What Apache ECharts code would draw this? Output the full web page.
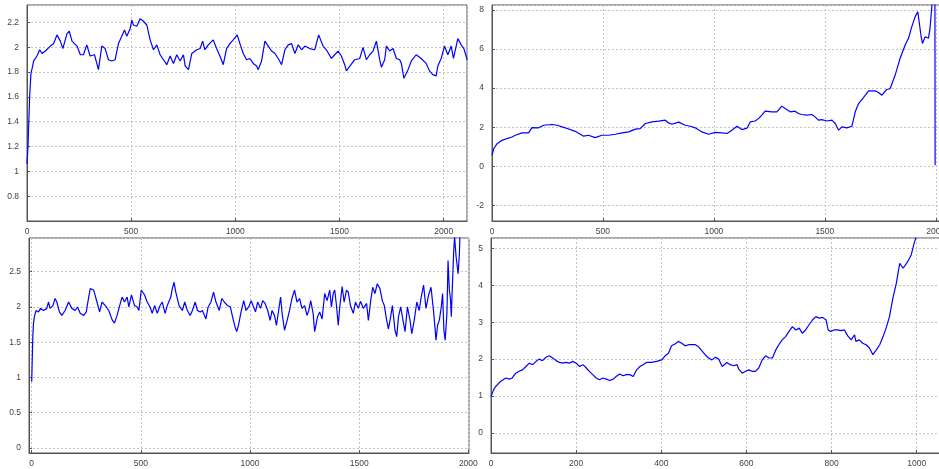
<!DOCTYPE html>
<html lang="en">
<head>
    <meta charset="UTF-8">
    <title>Four runs</title>
</head>
<style>
    html, body { margin: 0; padding: 0; background: #fff; }
    #chart { width: 939px; height: 469px; }
</style>
<body>
<div id="chart"></div>
</body>
<script src="https://cdn.jsdelivr.net/npm/echarts@6/dist/echarts.min.js"></script>
<script>
    // values, [step, value]
    var run1 = [[0,1.06],[5,1.21],[8,1.37],[13,1.61],[19,1.79],[26,1.84],[32,1.89],[48,1.93],[61,1.98],[72,1.95],[88,1.97],[112,2.01],[128,2.03],[144,2.10],[160,2.05],[172,1.99],[192,2.11],[203,2.13],[216,2.05],[240,2.01],[256,1.94],[271,1.94],[287,2.02],[303,1.93],[324,1.94],[335,1.87],[343,1.82],[359,2.01],[375,1.99],[391,1.90],[407,1.89],[423,1.90],[439,2.03],[455,2.09],[468,2.14],[479,2.09],[495,2.15],[503,2.22],[511,2.18],[527,2.17],[543,2.23],[559,2.21],[575,2.18],[591,2.06],[607,1.98],[623,2.02],[639,1.94],[655,1.90],[671,1.86],[687,1.93],[703,1.87],[719,1.94],[735,1.89],[751,1.94],[759,1.85],[775,1.82],[791,1.95],[815,1.98],[831,1.99],[843,2.05],[854,1.98],[870,2.02],[894,2.06],[910,1.99],[926,1.93],[942,1.86],[958,1.99],[974,2.03],[990,2.06],[1009,2.10],[1022,2.03],[1038,1.95],[1054,1.90],[1070,1.91],[1086,1.87],[1102,1.85],[1110,1.82],[1126,1.89],[1142,2.05],[1158,2.01],[1174,1.97],[1190,1.95],[1206,1.91],[1222,1.86],[1238,1.98],[1254,2.02],[1270,2.03],[1286,1.95],[1302,2.02],[1318,1.98],[1334,2.01],[1357,1.99],[1381,1.98],[1400,2.10],[1421,2.01],[1437,1.98],[1461,1.91],[1477,1.94],[1493,1.97],[1509,1.93],[1525,1.86],[1533,1.81],[1573,1.90],[1597,1.91],[1613,2.00],[1629,1.90],[1645,1.94],[1661,1.97],[1677,2.05],[1693,1.90],[1701,1.84],[1717,1.90],[1725,2.01],[1741,1.97],[1757,1.99],[1773,1.91],[1789,1.90],[1797,1.87],[1809,1.75],[1829,1.82],[1845,1.89],[1868,1.94],[1892,1.91],[1916,1.87],[1932,1.81],[1948,1.78],[1964,1.77],[1972,1.85],[1988,1.91],[2004,2.01],[2020,1.94],[2036,2.01],[2047,1.91],[2068,2.07],[2084,2.02],[2097,1.99],[2113,1.90]];

    var run2 = [[0,0.56],[8,0.91],[23,1.16],[45,1.33],[68,1.42],[90,1.50],[105,1.59],[135,1.71],[165,1.71],[180,1.98],[210,1.97],[233,2.10],[270,2.14],[293,2.10],[330,1.97],[375,1.79],[413,1.54],[435,1.59],[465,1.47],[495,1.59],[525,1.59],[556,1.64],[586,1.71],[616,1.76],[646,1.90],[668,1.93],[691,2.19],[721,2.27],[751,2.31],[781,2.36],[796,2.22],[811,2.15],[841,2.26],[871,2.10],[893,2.05],[916,1.97],[946,1.76],[976,1.64],[1006,1.74],[1036,1.71],[1059,1.68],[1081,1.85],[1104,2.05],[1126,1.88],[1149,1.95],[1164,2.27],[1186,2.32],[1201,2.44],[1216,2.62],[1231,2.82],[1261,2.79],[1284,2.79],[1306,3.08],[1321,2.96],[1344,2.79],[1366,2.82],[1381,2.70],[1396,2.65],[1419,2.62],[1441,2.65],[1456,2.53],[1471,2.36],[1486,2.39],[1509,2.32],[1532,2.36],[1547,2.19],[1562,1.85],[1577,2.02],[1599,1.97],[1622,2.05],[1637,2.79],[1652,3.21],[1674,3.52],[1697,3.86],[1727,3.86],[1742,3.78],[1757,3.64],[1779,3.93],[1794,3.97],[1817,4.67],[1839,5.52],[1862,6.21],[1877,6.55],[1892,7.15],[1907,7.66],[1919,7.91],[1925,7.40],[1934,6.63],[1940,6.29],[1952,6.63],[1967,6.55],[1974,7.06],[1982,8.17],[1990,9.5],[1996,9.8],[1997,0.05]];

    var run3 = [[0,0.94],[2,1.20],[5,1.58],[8,1.76],[12,1.86],[20,1.95],[31,1.93],[41,1.98],[54,1.95],[69,1.98],[77,2.07],[84,1.98],[97,2.02],[107,2.12],[115,2.07],[127,1.93],[138,1.88],[153,1.95],[169,2.07],[184,1.98],[199,1.95],[210,2.00],[222,1.91],[238,1.88],[250,1.93],[261,2.14],[268,2.26],[284,2.24],[299,2.07],[311,1.93],[322,2.07],[337,2.02],[353,1.95],[368,1.82],[379,1.77],[391,1.88],[403,2.02],[414,2.14],[425,2.07],[437,2.14],[445,2.00],[457,2.17],[471,2.02],[483,2.00],[491,1.95],[502,2.24],[517,2.17],[529,2.07],[542,2.00],[552,1.91],[563,2.02],[575,1.91],[588,2.02],[598,2.07],[611,1.91],[621,2.02],[637,2.14],[644,2.26],[652,2.35],[660,2.21],[675,2.02],[690,1.95],[701,2.07],[713,1.95],[726,1.88],[736,1.95],[749,2.07],[759,1.95],[772,1.93],[782,1.95],[798,1.83],[808,2.00],[821,2.07],[833,2.21],[844,2.07],[859,1.95],[871,2.12],[882,2.07],[897,2.02],[910,2.00],[920,1.86],[931,1.72],[939,1.65],[947,1.74],[959,1.93],[971,2.09],[982,1.95],[997,2.02],[1005,2.09],[1016,2.00],[1025,1.93],[1035,2.07],[1048,1.98],[1058,2.09],[1069,2.05],[1081,1.95],[1092,1.81],[1101,1.95],[1112,1.88],[1121,1.74],[1131,1.95],[1140,2.14],[1147,1.91],[1158,1.67],[1170,1.81],[1181,1.95],[1192,2.12],[1204,2.24],[1215,2.07],[1227,2.12],[1238,1.98],[1250,2.02],[1261,1.88],[1269,1.95],[1278,2.09],[1289,1.91],[1296,1.65],[1309,1.86],[1319,1.93],[1330,1.83],[1342,2.19],[1353,2.09],[1365,2.24],[1373,2.00],[1381,2.19],[1388,2.24],[1396,2.02],[1404,1.74],[1411,2.00],[1422,2.29],[1431,2.07],[1442,2.24],[1450,2.21],[1460,2.02],[1473,1.91],[1483,2.07],[1496,1.98],[1506,2.08],[1519,1.98],[1534,2.05],[1542,1.81],[1554,2.12],[1562,2.28],[1572,2.19],[1583,2.33],[1595,2.26],[1606,2.09],[1615,2.02],[1626,1.81],[1634,1.69],[1644,1.86],[1652,2.02],[1664,1.67],[1672,1.58],[1680,1.86],[1690,2.00],[1703,1.77],[1710,1.65],[1721,2.00],[1733,1.81],[1741,1.62],[1752,1.81],[1764,2.07],[1775,1.95],[1784,2.14],[1795,2.31],[1806,1.98],[1818,2.17],[1829,2.28],[1841,1.93],[1852,1.53],[1859,1.74],[1867,1.81],[1876,2.00],[1882,2.19],[1888,1.67],[1894,1.53],[1902,1.92],[1907,2.66],[1913,2.24],[1918,2.12],[1922,1.86],[1925,2.14],[1933,2.80],[1937,2.99],[1944,2.71],[1948,2.61],[1953,2.47],[1959,2.75],[1962,3.10],[1966,3.3]];

    var run4 = [[0,0.99],[3,1.08],[7,1.19],[11,1.26],[17,1.33],[23,1.40],[27,1.44],[35,1.49],[43,1.46],[50,1.49],[58,1.62],[66,1.67],[74,1.71],[82,1.80],[90,1.89],[98,1.85],[106,1.94],[113,2.00],[121,1.96],[129,2.05],[137,2.09],[145,2.03],[153,1.96],[161,1.91],[169,1.89],[176,1.91],[184,1.89],[192,1.94],[200,1.89],[208,1.80],[216,1.85],[224,1.76],[231,1.67],[239,1.58],[247,1.49],[255,1.44],[263,1.49],[271,1.46],[279,1.42],[287,1.46],[294,1.53],[302,1.60],[310,1.55],[318,1.58],[326,1.58],[334,1.53],[342,1.71],[350,1.80],[357,1.85],[365,1.91],[377,1.91],[389,1.94],[401,1.98],[409,2.09],[417,2.16],[424,2.36],[432,2.41],[440,2.48],[448,2.43],[456,2.36],[464,2.39],[472,2.39],[480,2.39],[487,2.34],[495,2.23],[503,2.12],[511,2.03],[519,1.98],[527,2.05],[535,2.00],[543,1.80],[546,1.76],[554,1.91],[562,1.85],[570,1.82],[578,1.85],[582,1.73],[590,1.62],[598,1.67],[606,1.71],[613,1.67],[621,1.67],[629,1.76],[637,1.98],[645,2.09],[653,2.03],[661,2.03],[669,2.25],[676,2.39],[684,2.52],[692,2.61],[700,2.75],[708,2.88],[716,2.79],[724,2.84],[731,2.70],[739,2.79],[747,2.93],[755,3.06],[763,3.15],[771,3.11],[779,3.13],[787,3.06],[792,2.79],[798,2.75],[806,2.79],[814,2.79],[822,2.77],[830,2.79],[838,2.63],[846,2.52],[854,2.66],[857,2.48],[865,2.52],[873,2.43],[881,2.39],[889,2.30],[897,2.12],[905,2.25],[913,2.39],[921,2.61],[928,2.84],[936,3.15],[944,3.65],[952,4.05],[960,4.59],[968,4.46],[976,4.59],[983,4.73],[987,4.82],[994,5.14],[999,5.32],[1003,5.6]];

    var runs = [run1, run2, run3, run4];

    // panel boxes in px and axis ranges [min, max, step, show min label]
    var boxes = [
        {left: 27, top: 5, width: 440, height: 216},
        {left: 492, top: 5, width: 450, height: 216},
        {left: 29, top: 238, width: 440, height: 215},
        {left: 491, top: 238, width: 450, height: 215}
    ];
    var xRange = [[0, 2112, 500, true], [0, 2028, 500, true], [-12.4, 2003, 500, false], [0, 1057, 200, true]];
    var yRange = [[0.6, 2.341, 0.2, false], [-2.80, 8.256, 2, false], [-0.071, 2.978, 0.5, false], [-0.541, 5.279, 1, false]];

    var labelStyle = {
        color: '#444',
        fontSize: 8.5,
        fontFamily: 'Liberation Sans, Arial, sans-serif'
    };
    var gridLine = {
        show: true,
        lineStyle: {color: '#c4c4c4', width: 1, type: [2, 2]}
    };

    function plain(v) {
        return String(+v.toFixed(6));
    }

    var grids = [], xAxes = [], yAxes = [], series = [];
    for (var i = 0; i < 4; i++) {
        grids.push({
            left: boxes[i].left, top: boxes[i].top,
            width: boxes[i].width, height: boxes[i].height,
            show: true, borderColor: '#555', borderWidth: 1,
            backgroundColor: 'transparent',
            containLabel: false,
            outerBoundsMode: 'none'
        });
        xAxes.push({
            type: 'value', gridIndex: i,
            min: xRange[i][0], max: xRange[i][1],
            minInterval: xRange[i][2], maxInterval: xRange[i][2],
            axisLine: {onZero: false, lineStyle: {color: '#555'}},
            axisTick: {show: true, inside: true, length: 3, lineStyle: {color: '#555'}},
            axisLabel: Object.assign({
                margin: 6,
                formatter: plain,
                showMinLabel: xRange[i][3],
                showMaxLabel: false
            }, labelStyle),
            splitLine: gridLine
        });
        yAxes.push({
            type: 'value', gridIndex: i,
            min: yRange[i][0], max: yRange[i][1],
            minInterval: yRange[i][2], maxInterval: yRange[i][2],
            axisLine: {show: true, onZero: false, lineStyle: {color: '#555'}},
            axisTick: {show: true, inside: true, length: 3, lineStyle: {color: '#555'}},
            axisLabel: Object.assign({
                margin: 8,
                formatter: plain,
                showMinLabel: yRange[i][3],
                showMaxLabel: false
            }, labelStyle),
            splitLine: gridLine
        });
        series.push({
            type: 'line',
            xAxisIndex: i, yAxisIndex: i,
            data: runs[i],
            showSymbol: false,
            clip: true,
            animation: false,
            lineStyle: {color: '#0000ff', width: 1.2}
        });
    }

    var myChart = echarts.init(document.getElementById('chart'));
    myChart.setOption({
        animation: false,
        grid: grids,
        xAxis: xAxes,
        yAxis: yAxes,
        series: series
    });
</script>
</html>
